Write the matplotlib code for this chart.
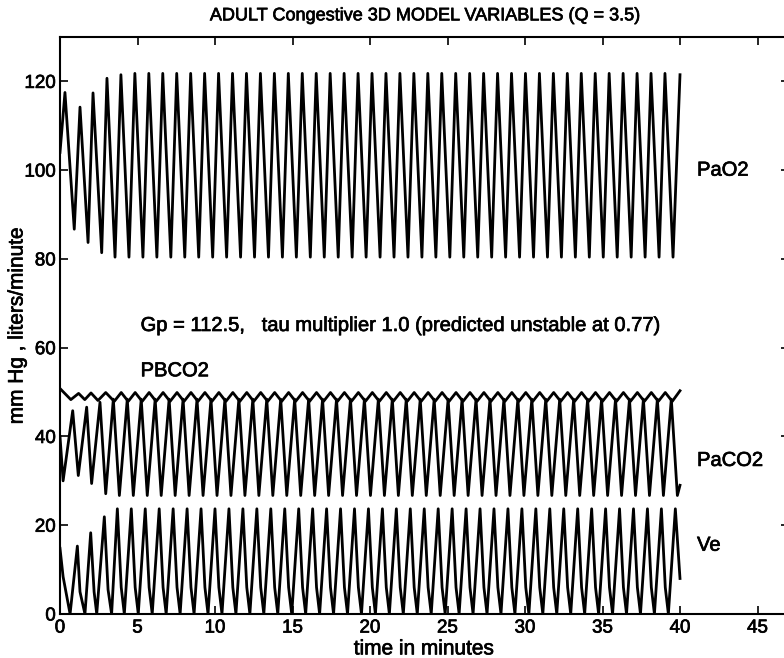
import matplotlib.pyplot as plt
import matplotlib.patheffects as pe
import numpy as np

plt.rcParams['font.family'] = ['Liberation Sans', 'DejaVu Sans']

title = "ADULT Congestive 3D MODEL VARIABLES (Q = 3.5)"
xlabel = "time in minutes"
ylabel = "mm Hg , liters/minute"
note = "Gp = 112.5,   tau multiplier 1.0 (predicted unstable at 0.77)"
xticks = [0, 5, 10, 15, 20, 25, 30, 35, 40, 45]
yticks = [0, 20, 40, 60, 80, 100, 120]

# PaO2 : start, peaks, troughs, end
pao2_peak_t = [0.32, 1.29, 2.13, 3.03, 3.93, 4.83, 5.73, 6.63, 7.53, 8.43, 9.33,
               10.23, 11.13, 12.03, 12.93, 13.83, 14.73, 15.63, 16.53, 17.43, 18.33,
               19.23, 20.13, 21.03, 21.93, 22.83, 23.73, 24.63, 25.53, 26.43, 27.33,
               28.23, 29.13, 30.03, 30.93, 31.83, 32.73, 33.63, 34.53, 35.43, 36.33,
               37.23, 38.13, 39.03, 40.0]
pao2_peak_v = [117.5, 114.2, 117.4, 120.7, 121.5] + [121.8] * 39 + [121.5]
pao2_trough_t = [0.0, 0.92, 1.81, 2.69, 3.55, 4.45, 5.35, 6.25, 7.15, 8.05, 8.95,
                 9.85, 10.75, 11.65, 12.55, 13.45, 14.35, 15.25, 16.15, 17.05, 17.95,
                 18.85, 19.75, 20.65, 21.55, 22.45, 23.35, 24.25, 25.15, 26.05, 26.95,
                 27.85, 28.75, 29.65, 30.55, 31.45, 32.35, 33.25, 34.15, 35.05, 35.95,
                 36.85, 37.75, 38.65, 39.55]
pao2_trough_v = [104.0, 86.7, 83.7, 81.4] + [80.4] * 41

# PaCO2
paco2_peak_t = [0.0, 0.82, 1.72, 2.58, 3.44, 4.34, 5.24, 6.14, 7.04, 7.94, 8.84,
                9.74, 10.64, 11.54, 12.44, 13.34, 14.24, 15.14, 16.04, 16.94, 17.84,
                18.74, 19.64, 20.54, 21.44, 22.34, 23.24, 24.14, 25.04, 25.94, 26.84,
                27.74, 28.64, 29.54, 30.44, 31.34, 32.24, 33.14, 34.04, 34.94, 35.84,
                36.74, 37.64, 38.54, 39.44, 40.0]
paco2_peak_v = [40.0, 45.8, 46.6, 47.7] + [48.4] * 41 + [29.0]
paco2_trough_t = [0.2, 1.18, 2.04, 2.95, 3.83, 4.73, 5.63, 6.53, 7.43, 8.33, 9.23,
                  10.13, 11.03, 11.93, 12.83, 13.73, 14.63, 15.53, 16.43, 17.33, 18.23,
                  19.13, 20.03, 20.93, 21.83, 22.73, 23.63, 24.53, 25.43, 26.33, 27.23,
                  28.13, 29.03, 29.93, 30.83, 31.73, 32.63, 33.53, 34.43, 35.33, 36.23,
                  37.13, 38.03, 38.93, 39.83]
paco2_trough_v = [30.0, 31.2, 29.4, 27.1] + [26.7] * 41

# PBCO2
pbco2_peak_t = [0.0, 1.2, 2.0, 2.95, 3.95, 4.85, 5.75, 6.65, 7.55, 8.45, 9.35,
                10.25, 11.15, 12.05, 12.95, 13.85, 14.75, 15.65, 16.55, 17.45, 18.35,
                19.25, 20.15, 21.05, 21.95, 22.85, 23.75, 24.65, 25.55, 26.45, 27.35,
                28.25, 29.15, 30.05, 30.95, 31.85, 32.75, 33.65, 34.55, 35.45, 36.35,
                37.25, 38.15, 39.05, 40.0]
pbco2_peak_v = [50.8, 49.7, 49.8, 49.9] + [49.9] * 40 + [50.3]
pbco2_trough_t = [0.7, 1.6, 2.45, 3.50, 4.40, 5.30, 6.20, 7.10, 8.00, 8.90, 9.80,
                  10.70, 11.60, 12.50, 13.40, 14.30, 15.20, 16.10, 17.00, 17.90, 18.80,
                  19.70, 20.60, 21.50, 22.40, 23.30, 24.20, 25.10, 26.00, 26.90, 27.80,
                  28.70, 29.60, 30.50, 31.40, 32.30, 33.20, 34.10, 35.00, 35.90, 36.80,
                  37.70, 38.60, 39.50]
pbco2_trough_v = [48.3, 48.3, 48.1] + [47.9] * 41

# Ve
ve_peak_t = [0.0, 1.12, 1.98, 2.86, 3.70, 4.60, 5.50, 6.40, 7.30, 8.20, 9.10,
             10.00, 10.90, 11.80, 12.70, 13.60, 14.50, 15.40, 16.30, 17.20, 18.10,
             19.00, 19.90, 20.80, 21.70, 22.60, 23.50, 24.40, 25.30, 26.20, 27.10,
             28.00, 28.90, 29.80, 30.70, 31.60, 32.50, 33.40, 34.30, 35.20, 36.10,
             37.00, 37.90, 38.80, 39.70]
ve_peak_v = [14.8, 15.3, 18.3, 21.9] + [23.7] * 41
ve_knee_t = [0.2, 1.29, 2.20, 3.10, 3.95, 4.85, 5.75, 6.65, 7.55, 8.45, 9.35,
             10.25, 11.15, 12.05, 12.95, 13.85, 14.75, 15.65, 16.55, 17.45, 18.35,
             19.25, 20.15, 21.05, 21.95, 22.85, 23.75, 24.65, 25.55, 26.45, 27.35,
             28.25, 29.15, 30.05, 30.95, 31.85, 32.75, 33.65, 34.55, 35.45, 36.35,
             37.25, 38.15, 39.05, 40.0]
ve_knee_v = [8.4, 5.0, 5.0, 5.5] + [6.0] * 40 + [8.0]
ve_zero_t = [0.65, 1.61, 2.37, 3.33, 4.15, 5.05, 5.95, 6.85, 7.75, 8.65, 9.55,
             10.45, 11.35, 12.25, 13.15, 14.05, 14.95, 15.85, 16.75, 17.65, 18.55,
             19.45, 20.35, 21.25, 22.15, 23.05, 23.95, 24.85, 25.75, 26.65, 27.55,
             28.45, 29.35, 30.25, 31.15, 32.05, 32.95, 33.85, 34.75, 35.65, 36.55,
             37.45, 38.35, 39.25]
ve_zero_v = [0.0] * 44


def trace(*pairs):
    t = np.concatenate([np.asarray(p[0], float) for p in pairs])
    v = np.concatenate([np.asarray(p[1], float) for p in pairs])
    idx = np.argsort(t, kind='stable')
    return t[idx], v[idx]


fig = plt.figure(figsize=(7.84, 6.58), dpi=100)
ax = fig.add_axes([60 / 784, 44 / 658, 728.5 / 784, 577 / 658])

series = [
    trace((pao2_peak_t, pao2_peak_v), (pao2_trough_t, pao2_trough_v)),
    trace((paco2_peak_t, paco2_peak_v), (paco2_trough_t, paco2_trough_v)),
    trace((pbco2_peak_t, pbco2_peak_v), (pbco2_trough_t, pbco2_trough_v)),
    trace((ve_peak_t, ve_peak_v), (ve_knee_t, ve_knee_v), (ve_zero_t, ve_zero_v)),
]
for t, v in series:
    ax.plot(t, v, color='black', lw=2.0, solid_joinstyle='round')

ax.set_xlim(0, 47)
ax.set_ylim(0, 130)
ax.set_xticks(xticks)
ax.set_yticks(yticks)
ax.tick_params(direction='in', top=True, right=True, length=6, width=1.2,
               labelsize=13.5)
ax.tick_params(axis='x', pad=4)
ax.tick_params(axis='y', pad=3)
for s in ax.spines.values():
    s.set_linewidth(1.5)

ax.set_title(title, fontsize=13, pad=12)
ax.set_xlabel(xlabel, fontsize=15)
ax.xaxis.set_label_coords(0.5, -0.044)
ax.set_ylabel(ylabel, fontsize=15)
ax.yaxis.set_label_coords(-0.046, 0.5)

ax.text(41.1, 100, "PaO2", fontsize=14.5, va='center')
ax.text(41.1, 34.6, "PaCO2", fontsize=14.5, va='center')
ax.text(41.1, 15.5, "Ve", fontsize=14.5, va='center')
ax.text(5.2, 54.8, "PBCO2", fontsize=14.5, va='center')
ax.text(5.2, 65, note, fontsize=14.5, va='center')

# scanned print looks heavier than a plain regular weight
heavy = [pe.withStroke(linewidth=0.5, foreground='black')]
for txt in ax.texts + [ax.title, ax.xaxis.label, ax.yaxis.label]:
    txt.set_path_effects(heavy)
for lab in ax.get_xticklabels() + ax.get_yticklabels():
    lab.set_path_effects(heavy)

fig.savefig("out.png", dpi=100)
